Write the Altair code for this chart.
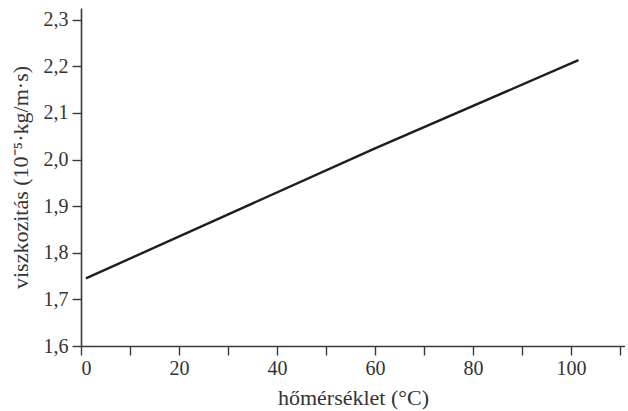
import altair as alt
import pandas as pd

temps = [1, 60, 101.5]
visc = [1.745, 2.024, 2.213]

df = pd.DataFrame({"t": temps, "v": visc})

FONT = "Liberation Serif"
AX = "#3a3a3a"

chart = alt.Chart(df).mark_line(color="#1e1e1e", strokeWidth=2.4).encode(
    x=alt.X("t:Q",
            scale=alt.Scale(domain=[0, 111], nice=False, zero=False),
            axis=alt.Axis(title="hőmérséklet (°C)",
                          values=list(range(0, 111, 10)),
                          labelExpr="datum.value % 20 == 0 ? datum.label : ''",
                          grid=False, tickSize=9, labelPadding=3,
                          titlePadding=9, titleFontSize=22)),
    y=alt.Y("v:Q",
            scale=alt.Scale(domain=[1.6, 2.325], nice=False, zero=False),
            axis=alt.Axis(title="viszkozitás (10⁻⁵·kg/m·s)",
                          values=[1.6, 1.7, 1.8, 1.9, 2.0, 2.1, 2.2, 2.3],
                          labelExpr="replace(format(datum.value, '.1f'), '.', ',')",
                          grid=False, tickSize=9, labelPadding=4,
                          titlePadding=11, titleFontSize=22)),
).properties(
    width=544, height=338,
    background="white",
    autosize=alt.AutoSizeParams(type="none"),
    padding={"left": 81, "top": 8, "right": 0, "bottom": 65},
).configure_view(stroke=None).configure_axis(
    domainColor=AX, tickColor=AX, domainWidth=1.6, tickWidth=1.4,
    labelFont=FONT, titleFont=FONT, labelFontSize=20,
    labelColor="#333", titleColor="#333", titleFontWeight="normal",
)

chart.save("out.html", embed_options={"renderer": "svg", "actions": False})
